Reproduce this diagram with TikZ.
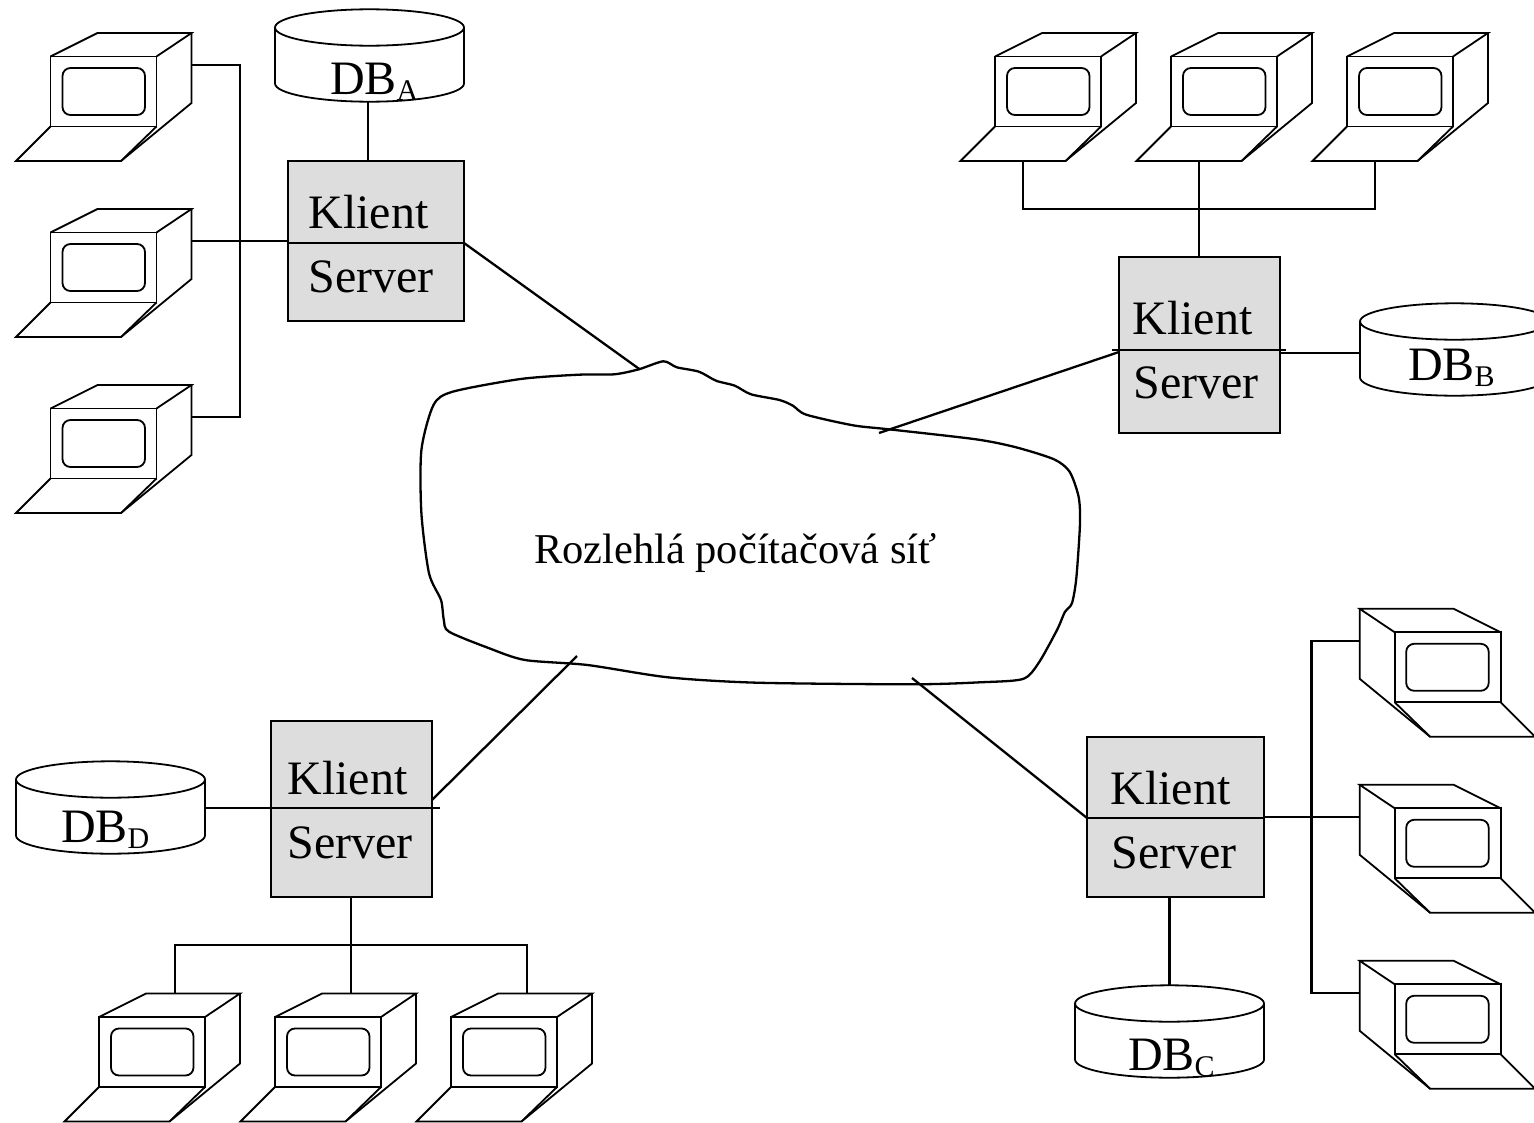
\documentclass[tikz,border=0pt]{standalone}
\usepackage{fontspec}
\setmainfont{Liberation Serif}
\usetikzlibrary{calc}
\definecolor{srvgray}{HTML}{DDDDDD}
\tikzset{
  thinln/.style={draw=black,line width=1.8pt,line join=miter},
  wire/.style={draw=black,line width=2.3pt},
  srvbox/.style={draw=black,fill=srvgray,line width=2.3pt,outer sep=0pt,inner sep=0pt},
  big/.style={inner sep=0pt,outer sep=0pt,anchor=base west,font=\fontsize{48}{50}\selectfont},
  midtext/.style={inner sep=0pt,outer sep=0pt,anchor=base west,font=\fontsize{42.5}{44}\selectfont},
  pcunit/.pic={
    \draw[thinln] (0,0) rectangle (106,70);
    \draw[thinln] (0,0) -- (47,-23.5) -- (141,-23.5) -- (106,0);
    \draw[thinln] (141,-23.5) -- (141,46.5) -- (70.5,104.5);
    \draw[thinln] (0,70) -- (-34.5,104.5) -- (70.5,104.5) -- (106,70);
    \draw[thinln,rounded corners=8pt] (12,11.5) rectangle (94.5,58.5);
    \coordinate (-side) at (141,8.5);
    \coordinate (-kbd) at (28,104.5);
    \coordinate (-top) at (76,-23.5);
  },
  dbcyl/.pic={
    \draw[thinln] (0,0) ellipse [x radius=94.5,y radius=18.2];
    \draw[thinln] (-94.5,0) -- (-94.5,56) .. controls (-94.5,66) and (-52.2,74.2) .. (0,74.2)
      .. controls (52.2,74.2) and (94.5,66) .. (94.5,56) -- (94.5,0);
    \coordinate (-s) at (-1.5,74.2);
    \coordinate (-n) at (0,-18.2);
    \coordinate (-e) at (94.5,25);
    \coordinate (-w) at (-94.5,25);
  }
}
\newcommand{\dbsub}[1]{DB\raisebox{-6pt}{\fontsize{30}{30}\selectfont #1}}
\begin{document}
\begin{tikzpicture}[x=1pt,y=-1pt]
\path[use as bounding box,clip] (0,0) rectangle (1534,1122);

% computers
\pic (pcA1) at (50.5,56.5) {pcunit};
\pic (pcA2) at (50.5,232.5) {pcunit};
\pic (pcA3) at (50.5,408.5) {pcunit};
\pic (pcB1) at (995,56.5) {pcunit};
\pic (pcB2) at (1171,56.5) {pcunit};
\pic (pcB3) at (1347,56.5) {pcunit};
\pic[xscale=-1] (pcC1) at (1500.7,632.3) {pcunit};
\pic[xscale=-1] (pcC2) at (1500.7,808.3) {pcunit};
\pic[xscale=-1] (pcC3) at (1500.7,984.3) {pcunit};
\pic (pcD1) at (99,1017) {pcunit};
\pic (pcD2) at (275,1017) {pcunit};
\pic (pcD3) at (451,1017) {pcunit};

% databases
\pic (dbA) at (369.5,27.5) {dbcyl};
\pic (dbB) at (1454.5,321.5) {dbcyl};
\pic (dbC) at (1169.5,1003.5) {dbcyl};
\pic (dbD) at (110.5,779.5) {dbcyl};

% network cloud
\draw[wire,line join=round] plot[smooth cycle,tension=0.45] coordinates {
 (452.7,391.7) (520.5,379) (578.6,374.7) (614.3,374.3) (638.8,369.3) (663.4,361.3)
 (676.8,367.3) (699,371.7) (716,380.7) (734.8,385.7) (751,394.3) (779.5,400)
 (792.9,405.7) (806.3,414.7) (853,425.3) (888.8,429.3) (975.9,439.3) (1016,447.3)
 (1054,459.3) (1069.6,471.7) (1078.6,496.7) (1080,523.3) (1076.3,578.3) (1071.9,603.3)
 (1065,611.7) (1057,630) (1038.4,663.3) (1022.8,679) (980,682.3) (913,684.3)
 (757,682.7) (667.9,677.3) (587.5,665) (525,660) (489.3,648.3) (449,631.7)
 (443.8,620) (441,600) (429,573.3) (421.4,513.3) (421.4,450) (433.5,405)};
\node[midtext] (net) at (534,563) {Rozlehlá počítačová síť};
\coordinate (cloudA) at (640,369.5);
\coordinate (cloudB) at (879,433);
\coordinate (cloudC) at (912,678);
\coordinate (cloudD) at (577,656);

% servers
\node[srvbox,minimum width=176pt,minimum height=160pt] (srvA) at (376,241) {};
\node[srvbox,minimum width=161pt,minimum height=176pt] (srvB) at (1199.5,345) {};
\node[srvbox,minimum width=177pt,minimum height=160pt] (srvC) at (1175.5,817) {};
\node[srvbox,minimum width=161pt,minimum height=176pt] (srvD) at (351.5,809) {};

\coordinate (divAw) at (288,243); \coordinate (divAe) at (464,243);
\coordinate (divBw) at (1112,350); \coordinate (divBe) at (1286,350);
\coordinate (divCw) at (1087,818); \coordinate (divCe) at (1264,818);
\coordinate (divDw) at (271,808); \coordinate (divDe) at (440,808);
\draw[thinln] (divAw) -- (divAe);
\draw[thinln] (divBw) -- (divBe);
\draw[thinln] (divCw) -- (divCe);
\draw[thinln] (divDw) -- (divDe);

\node[big] (klA) at (308.5,228) {Klient};
\node[big] (seA) at (308.5,292) {Server};
\node[big] (klB) at (1132.5,334) {Klient};
\node[big] (seB) at (1133.5,398) {Server};
\node[big] (klC) at (1110.5,804) {Klient};
\node[big] (seC) at (1111.5,868) {Server};
\node[big] (klD) at (287.5,794) {Klient};
\node[big] (seD) at (287.5,858) {Server};

\node[big] (lbA) at (330,94) {\dbsub{A}};
\node[big] (lbB) at (1408,380) {\dbsub{B}};
\node[big] (lbC) at (1128,1070) {\dbsub{C}};
\node[big] (lbD) at (61,842) {\dbsub{D}};

% links server - network
\draw[wire] (divAe) -- (cloudA);
\draw[wire] (srvB.west |- 0,352) -- (cloudB);
\draw[wire] (srvC.west |- divCw) -- (cloudC);
\draw[wire] (srvD.east |- 0,800) -- (cloudD);

% links server - database
\draw[wire] (dbA-s) -- (dbA-s |- srvA.north);
\draw[wire] (srvB.east |- 0,353) -- (dbB-w |- 0,353);
\draw[wire] (dbC-n) -- (dbC-n |- srvC.south);
\draw[wire] (srvD.west |- 0,808) -- (dbD-e |- 0,808);

% group A bus
\coordinate (busA) at (240,241);
\draw[wire] (pcA1-side) -- (busA |- pcA1-side) -- (busA |- pcA3-side) -- (pcA3-side);
\draw[wire] (pcA2-side) -- (srvA.west |- pcA2-side);

% group B bus
\coordinate (busB) at (1199,209);
\draw[wire] (pcB1-kbd) -- (pcB1-kbd |- busB) -- (pcB3-kbd |- busB) -- (pcB3-kbd);
\draw[wire] (pcB2-kbd) -- (srvB.north -| pcB2-kbd);

% group C bus
\coordinate (busC) at (1311.5,817);
\draw[wire] (pcC1-side) -- (busC |- pcC1-side) -- (busC |- pcC3-side) -- (pcC3-side);
\draw[wire] (pcC2-side) -- (srvC.east |- pcC2-side);

% group D bus
\coordinate (busD) at (351,945);
\draw[wire] (pcD1-top) -- (pcD1-top |- busD) -- (pcD3-top |- busD) -- (pcD3-top);
\draw[wire] (pcD2-top) -- (srvD.south -| pcD2-top);
\end{tikzpicture}
\end{document}
